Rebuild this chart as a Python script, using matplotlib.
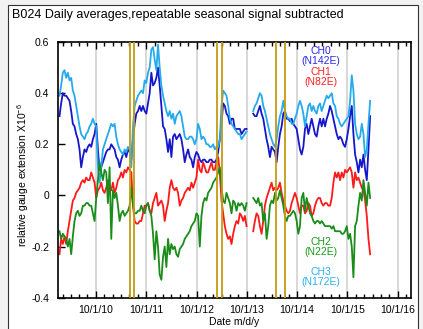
import pandas as pd
import matplotlib
matplotlib.use('Agg')
import matplotlib.pyplot as plt
import matplotlib.dates as mdates
from matplotlib.patches import Rectangle
from matplotlib.ticker import FuncFormatter

plt.rcParams['font.family'] = ['Liberation Sans', 'DejaVu Sans']
plt.rcParams['mathtext.fontset'] = 'custom'
plt.rcParams['mathtext.rm'] = 'Liberation Sans'
plt.rcParams['mathtext.default'] = 'rm'
plt.rcParams['axes.unicode_minus'] = False

nan = float('nan')

# daily averages thinned out to one value every ~12 days
FIRST_DAY = '2010-01-10'
STEP = '291h'

CH0 = [0.31, 0.36, 0.40, 0.39, 0.39, 0.38, 0.37, 0.33, 0.28, 0.27,
       0.24, 0.22, 0.18, 0.11, 0.15, 0.18, 0.17, 0.19, 0.20, 0.19,
       0.22, 0.24, 0.28, 0.18, 0.10, 0.11, 0.13, 0.15, 0.17, 0.18,
       0.18, 0.20, 0.19, 0.18, 0.15, 0.14, 0.11, 0.14, 0.16, 0.17,
       0.15, 0.18, 0.17, 0.14, 0.22, 0.28, 0.32, 0.33, 0.35,
       0.33, 0.35, 0.33, 0.32, 0.36, 0.40, 0.48, 0.43, 0.44, 0.46,
       0.50, 0.43, 0.35, 0.27, 0.26, 0.22, 0.17, 0.22, 0.15, 0.23,
       0.24, 0.22, 0.23, 0.24, 0.22, 0.18, 0.13, 0.16, 0.18, 0.15,
       0.14, 0.11, 0.15, 0.17, 0.16, 0.14, 0.13, 0.14, 0.14, 0.13,
       0.13, 0.14, 0.14, 0.13, 0.13, 0.14, 0.17, 0.22,
       0.28, 0.36, 0.35, 0.32, 0.31, 0.28, 0.30, 0.30, 0.26, 0.26,
       0.26, 0.26, 0.24, 0.25, 0.26, 0.26, nan, nan, nan, 0.32,
       0.31, 0.31, 0.33, 0.35, 0.32, 0.30, 0.26, 0.22, 0.19, 0.15,
       0.19, 0.18, 0.17, 0.13, 0.19, 0.24, 0.27, 0.32, 0.33, 0.30,
       0.30, 0.29, 0.30, 0.28, 0.27, 0.26, 0.22, 0.18, 0.16,
       0.19, 0.26, 0.28, 0.24, 0.27, 0.30, 0.27, 0.24, 0.23, 0.27,
       0.30, 0.27, 0.30, 0.27, 0.30, 0.32, 0.35, 0.33, 0.30, 0.27,
       0.24, 0.22, 0.23, 0.22, 0.20, 0.19, 0.22, 0.26, 0.31, 0.35,
       0.24, 0.16, 0.13, 0.09, 0.14, 0.11, 0.16, 0.10, 0.06, 0.18,
       0.31]

CH1 = [-0.23, -0.17, -0.19, -0.16, -0.19, -0.14, -0.10, -0.06, -0.02, -0.01,
       0.01, 0.02, 0.03, 0.05, 0.06, 0.05, 0.07, 0.06, 0.06, 0.09,
       0.07, 0.05, -0.01, 0.02, 0.03, 0.05, 0.02, 0.01, 0.03, 0.06,
       0.03, 0.02, 0.05, 0.01, 0.03, 0.06, 0.07, 0.09, 0.07, 0.10,
       0.09, 0.11, 0.10, 0.09, -0.04, -0.10, -0.11, -0.11, -0.10,
       -0.10, -0.07, -0.04, -0.04, -0.03, -0.06, -0.07, -0.03, -0.01, 0.01,
       -0.04, -0.03, -0.02, -0.04, -0.10, -0.06, -0.03, 0.03, 0.06, 0.03,
       0.02, 0.03, 0.01, -0.04, -0.02, -0.01, 0.01, 0.02, 0.03, 0.02,
       0.05, 0.03, 0.05, 0.07, 0.14, 0.10, 0.09, 0.13, 0.11, 0.09,
       0.09, 0.11, 0.13, 0.10, 0.10, 0.13, 0.15, 0.09,
       -0.02, -0.07, -0.12, -0.15, -0.17, -0.16, -0.19, -0.15, -0.12, -0.10,
       -0.11, -0.07, -0.08, -0.10, -0.08, -0.12, nan, nan, nan, -0.14,
       -0.10, -0.07, -0.08, -0.12, -0.15, -0.10, -0.04, -0.01, 0.01, 0.03,
       0.05, 0.02, 0.03, 0.02, 0.03, 0.05, 0.01, -0.02, -0.04, -0.06,
       -0.07, -0.06, -0.03, -0.01, 0.01, -0.01, -0.04, -0.07, -0.04,
       -0.04, -0.07, -0.06, -0.03, -0.04, -0.08, -0.07, -0.04, -0.02, -0.01,
       -0.01, -0.03, -0.04, -0.03, -0.03, -0.04, -0.04, -0.01, 0.05, 0.09,
       0.07, 0.09, 0.06, 0.09, 0.07, 0.10, 0.09, 0.10, 0.11, 0.09,
       0.03, 0.09, 0.06, 0.07, 0.05, 0.03, 0.02, -0.02, -0.08, -0.17,
       -0.23]

CH2 = [-0.14, -0.17, -0.15, -0.16, -0.17, -0.20, -0.17, -0.23, -0.16, -0.10,
       -0.07, -0.06, -0.08, -0.07, -0.04, -0.04, -0.03, -0.03, -0.04, -0.04,
       -0.07, -0.10, -0.01, 0.06, 0.13, 0.09, 0.06, 0.10, 0.09, -0.03,
       0.11, -0.17, 0.02, -0.01, 0.01, -0.04, -0.10, -0.07, -0.06, -0.08,
       -0.07, -0.06, -0.04, 0.03, -0.04, -0.07, -0.07, -0.06, -0.06,
       -0.04, -0.06, -0.07, -0.04, -0.03, -0.06, -0.08, -0.15, -0.25, -0.14,
       -0.20, -0.31, -0.33, -0.24, -0.20, -0.28, -0.17, -0.23, -0.19, -0.21,
       -0.20, -0.23, -0.24, -0.21, -0.20, -0.19, -0.17, -0.16, -0.15, -0.14,
       -0.12, -0.11, -0.10, -0.07, -0.08, -0.20, -0.08, -0.03, -0.01, -0.02,
       0.01, 0.02, 0.03, 0.05, 0.06, 0.07, 0.09, 0.11,
       0.03, -0.02, -0.03, 0.01, -0.01, -0.03, -0.07, -0.02, -0.03, -0.06,
       -0.03, -0.04, -0.03, -0.04, -0.06, -0.03, nan, nan, nan, -0.01,
       -0.02, -0.03, -0.01, -0.04, -0.03, -0.10, -0.07, -0.17, -0.12, -0.04,
       -0.02, -0.03, 0.01, -0.02, -0.01, 0.02, -0.01, -0.04, -0.08, -0.10,
       -0.08, -0.08, -0.07, -0.06, -0.07, -0.10, -0.15, -0.12, -0.01,
       0.01, -0.06, -0.01, -0.04, -0.07, -0.08, -0.10, -0.11, -0.10, -0.10,
       -0.11, -0.10, -0.11, -0.12, -0.12, -0.12, -0.12, -0.13, -0.12, -0.14,
       -0.14, -0.14, -0.14, -0.15, -0.15, -0.14, -0.12, -0.17, -0.15, -0.20,
       -0.32, -0.12, -0.10, -0.04, 0.01, -0.02, 0.06, 0.01, -0.04, 0.05,
       -0.01]

CH3 = [0.39, 0.43, 0.48, 0.49, 0.46, 0.48, 0.45, 0.46, 0.41, 0.39,
       0.35, 0.31, 0.27, 0.24, 0.23, 0.22, 0.24, 0.25, 0.27, 0.28,
       0.30, 0.28, 0.27, 0.11, 0.05, 0.11, 0.18, 0.20, 0.22, 0.24,
       0.26, 0.28, 0.27, 0.28, 0.23, 0.20, 0.18, 0.17, 0.16, 0.18,
       0.17, 0.19, 0.18, 0.11, 0.27, 0.35, 0.37, 0.39, 0.40,
       0.41, 0.40, 0.45, 0.44, 0.48, 0.50, 0.57, 0.58, 0.53, 0.49,
       0.59, 0.50, 0.43, 0.39, 0.36, 0.33, 0.31, 0.33, 0.30, 0.32,
       0.28, 0.31, 0.32, 0.33, 0.31, 0.27, 0.23, 0.22, 0.22, 0.23,
       0.23, 0.22, 0.20, 0.22, 0.28, 0.26, 0.22, 0.23, 0.22, 0.20,
       0.20, 0.19, 0.19, 0.20, 0.18, 0.19, 0.19, 0.22,
       0.35, 0.41, 0.40, 0.39, 0.35, 0.30, 0.28, 0.27, 0.26, 0.25,
       0.24, 0.24, 0.22, 0.23, 0.24, 0.25, nan, nan, nan, 0.33,
       0.35, 0.36, 0.38, 0.40, 0.39, 0.35, 0.33, 0.30, 0.27, 0.24,
       0.22, 0.20, 0.19, 0.22, 0.27, 0.31, 0.33, 0.37, 0.33, 0.31,
       0.30, 0.30, 0.28, 0.28, 0.30, 0.32, 0.35, 0.37, 0.35,
       0.32, 0.27, 0.31, 0.35, 0.36, 0.33, 0.35, 0.33, 0.32, 0.35,
       0.36, 0.33, 0.35, 0.37, 0.39, 0.38, 0.39, 0.40, 0.36, 0.35,
       0.31, 0.30, 0.28, 0.27, 0.28, 0.29, 0.30, 0.31, 0.37, 0.47,
       0.41, 0.28, 0.24, 0.22, 0.23, 0.28, 0.24, 0.15, 0.18, 0.28,
       0.37]

CHANNELS = ['CH0\n(N142E)', 'CH1\n(N82E)', 'CH2\n(N22E)', 'CH3\n(N172E)']
COLORS = ['#1616cc', '#ff1a1a', '#1a8c1a', '#26aaee']
TEXT_COLORS = ['#2a2af0', '#ff2020', '#1a9a1a', '#2ab0f0']
EVENTS = ['2011-06-07', '2011-07-06', '2013-03-01', '2013-04-03',
          '2014-05-02', '2014-07-05']
YEARS = [2010, 2011, 2012, 2013, 2014, 2015, 2016]

days = pd.date_range(FIRST_DAY, periods=len(CH0), freq=STEP)

fig = plt.figure(figsize=(4.23, 3.29), dpi=100, facecolor='#f2f2f2')
fig.add_artist(Rectangle((8 / 423, -0.05), 410 / 423, 1.05 - 5 / 329,
                         transform=fig.transFigure, facecolor='white',
                         edgecolor='#333333', lw=0.8, zorder=0))
fig.text(12 / 423, 1 - 15 / 329,
         'B024 Daily averages,repeatable seasonal signal subtracted',
         ha='left', va='center', fontsize=9)

ax = fig.add_axes([0.1364, 0.0951, 0.8346, 0.7772])

for yr in YEARS:
    ax.axvline(pd.Timestamp(f'{yr}-10-01'), color='#d2d2d2', lw=1.2, zorder=1)

for vals, col in zip([CH0, CH3, CH1, CH2], [COLORS[0], COLORS[3], COLORS[1], COLORS[2]]):
    ax.plot(days, vals, color=col, lw=1.3, zorder=2)

for ev in EVENTS:
    ax.axvline(pd.Timestamp(ev), color='#c49c10', lw=1.3, zorder=3)

for txt, tcol, ypos in zip(CHANNELS, TEXT_COLORS, [0.946, 0.863, 0.199, 0.080]):
    ax.text(0.746, ypos, txt, color=tcol, transform=ax.transAxes,
            ha='center', va='center', fontsize=7.5, linespacing=0.95)

ax.set_xlim(pd.Timestamp('2009-12-28'), pd.Timestamp('2017-01-03'))
ax.set_ylim(-0.4, 0.6)
ax.set_yticks([-0.4, -0.2, 0, 0.2, 0.4, 0.6])
ax.yaxis.set_major_formatter(FuncFormatter(lambda v, p: '%g' % round(v, 2)))

ax.xaxis.set_major_locator(mdates.MonthLocator(bymonth=[10]))
ax.xaxis.set_minor_locator(mdates.MonthLocator(bymonth=[2, 4, 6, 8, 12]))
ax.xaxis.set_major_formatter(FuncFormatter(
    lambda v, p: '%d/%d/%s' % (mdates.num2date(v).month, mdates.num2date(v).day,
                               mdates.num2date(v).strftime('%y'))))

ax.tick_params(axis='x', which='both', direction='in', top=True, bottom=True,
               labelsize=7.5, pad=5, width=1.0)
ax.tick_params(axis='x', which='major', length=5)
ax.tick_params(axis='x', which='minor', length=3)
ax.tick_params(axis='y', direction='in', left=True, right=False, length=5,
               labelsize=7.5, pad=6, width=1.0)
for sp in ax.spines.values():
    sp.set_linewidth(1.2)

ax.set_xlabel('Date m/d/y', fontsize=7.5, labelpad=2)
ax.set_ylabel('relative gauge extension X10$^{-6}$', fontsize=7.5)
ax.yaxis.set_label_coords(-0.075, 0.48)

plt.savefig('out.png', dpi=100, facecolor=fig.get_facecolor())
